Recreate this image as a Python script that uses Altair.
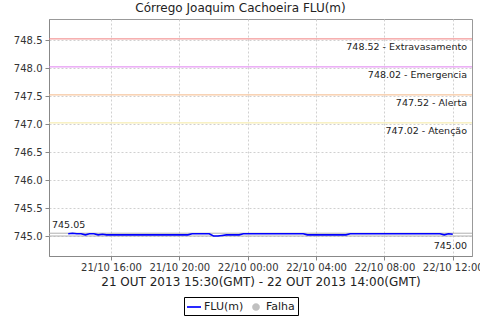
import altair as alt
import pandas as pd

# ---- data ----
start_time = "2013-10-21 13:30"
end_time = "2013-10-22 12:00"
times = pd.date_range(start_time, end_time, freq="15min").strftime("%Y-%m-%dT%H:%M:%S").tolist()

levels = [
    745.04, 745.05, 745.04, 745.04, 745.02, 745.04, 745.04, 745.02, 745.03, 745.02,
    745.02, 745.02, 745.02, 745.02, 745.02, 745.02, 745.02, 745.02, 745.02, 745.02,
    745.02, 745.02, 745.02, 745.02, 745.02, 745.02, 745.02, 745.02, 745.02,
    745.04, 745.04, 745.04, 745.04, 745.04,
    745.00, 745.00, 745.01,
    745.02, 745.02, 745.02, 745.02,
    745.04, 745.04, 745.04, 745.04, 745.04, 745.04, 745.04, 745.04, 745.04, 745.04,
    745.04, 745.04, 745.04, 745.04, 745.04,
    745.02, 745.02, 745.02, 745.02, 745.02, 745.02, 745.02, 745.02, 745.02, 745.02,
    745.04, 745.04, 745.04, 745.04, 745.04, 745.04, 745.04, 745.04, 745.04, 745.04,
    745.04, 745.04, 745.04, 745.04, 745.04, 745.04, 745.04, 745.04, 745.04, 745.04,
    745.04, 745.04,
    745.02, 745.04, 745.03,
]

limit_values = [748.52, 748.02, 747.52, 747.02]
limit_names = ["Extravasamento", "Emergencia", "Alerta", "Atenção"]
limit_colors = ["#f08080", "#e080f0", "#f4b888", "#f4e8a0"]

series_names = ["FLU(m)", "Falha"]
series_colors = ["#0000ff", "#c0c0c0"]

y_ticks = [745.0, 745.5, 746.0, 746.5, 747.0, 747.5, 748.0, 748.5]
x_tick_hours = [(21, 16), (21, 20), (22, 0), (22, 4), (22, 8), (22, 12)]

title_text = "Córrego Joaquim Cachoeira FLU(m)"
x_title = "21 OUT 2013 15:30(GMT) - 22 OUT 2013 14:00(GMT)"

# ---- tables ----
df = pd.DataFrame({"time": times, "level": levels, "serie": series_names[0]})
lim_df = pd.DataFrame({
    "value": limit_values,
    "label": [f"{v:.2f} - {n}" for v, n in zip(limit_values, limit_names)],
    "color": limit_colors,
})
vmax = max(levels)
vmin = min(levels)
ext_df = pd.DataFrame({"value": [vmax, vmin], "label": [f"{vmax:.2f}", f"{vmin:.2f}"]})

FONT = "DejaVu Sans"
x_min = alt.DateTime(year=2013, month=10, date=21, hours=12, minutes=22, seconds=30)
x_max = alt.DateTime(year=2013, month=10, date=22, hours=13, minutes=7, seconds=30)

x_scale = alt.Scale(domain=[x_min, x_max], nice=False)
y_scale = alt.Scale(domain=[744.643, 748.875], nice=False, zero=False)

x_axis = alt.Axis(
    values=[alt.DateTime(year=2013, month=10, date=d, hours=h) for d, h in x_tick_hours],
    format="%d/%m %H:%M", title=x_title, titleFontSize=12, titleFontWeight="normal",
    titleColor="#222", titlePadding=4, labelFontSize=10, labelColor="#333",
    labelPadding=2, tickSize=4, tickColor="#888", domainColor="#888",
    grid=True, gridDash=[2, 2], gridColor="#d0d0d0", labelFlush=False, labelOverlap=False,
)
y_axis = alt.Axis(
    values=y_ticks, format=".1f", title=None, labelFontSize=10, labelColor="#333",
    labelPadding=3, tickSize=4, tickColor="#888", domainColor="#888",
    grid=True, gridDash=[2, 2], gridColor="#d0d0d0", labelOverlap=False,
)


def Y(field):
    return alt.Y(field, scale=y_scale, axis=y_axis)


def X(field):
    return alt.X(field, scale=x_scale, axis=x_axis)


base = alt.Chart(df)

line = base.mark_line(color=series_colors[0], strokeWidth=1.6).encode(
    x=X("time:T"),
    y=Y("level:Q"),
)

# legend symbols: a thin bar for the line series, a dot for "Falha"
legend_shapes = ["M-1,-0.12H1V0.12H-1Z", "M-0.55,0A0.55,0.55 0 1,1 0.55,0A0.55,0.55 0 1,1 -0.55,0Z"]

legend_pts = base.transform_filter("false").mark_point(filled=True, opacity=1).encode(
    x=X("time:T"),
    y=Y("level:Q"),
    color=alt.Color("serie:N", scale=alt.Scale(domain=series_names, range=series_colors),
                    legend=alt.Legend(
                        title=None, orient="none", legendX=135, legendY=278,
                        direction="horizontal", strokeColor="black", padding=3,
                        labelFontSize=11, labelColor="#222", labelFont=FONT,
                        columnPadding=5, labelOffset=3, symbolSize=196,
                        symbolStrokeWidth=0, symbolOpacity=1,
                    )),
    shape=alt.Shape("serie:N", scale=alt.Scale(domain=series_names, range=legend_shapes)),
)

lim_rules = alt.Chart(lim_df).mark_rule(strokeWidth=1).encode(
    y=Y("value:Q"),
    color=alt.Color("color:N", scale=None),
)
lim_text = alt.Chart(lim_df).mark_text(
    align="right", baseline="middle", dx=-5, dy=8, fontSize=9.5, font=FONT, color="#222"
).encode(
    x=alt.datum(x_max, scale=x_scale, axis=x_axis),
    y=Y("value:Q"),
    text="label:N",
)

ext_rules = alt.Chart(ext_df).mark_rule(strokeWidth=1, color="#b0b0b0").encode(
    y=Y("value:Q"),
)
ext_top = alt.Chart(ext_df).transform_filter(alt.datum.value == vmax).mark_text(
    align="left", baseline="middle", dx=3, dy=-8, fontSize=9.5, font=FONT, color="#222"
).encode(x=alt.datum(x_min, scale=x_scale, axis=x_axis), y=Y("value:Q"), text="label:N")
ext_bot = alt.Chart(ext_df).transform_filter(alt.datum.value == vmin).mark_text(
    align="right", baseline="middle", dx=-5, dy=10, fontSize=9.5, font=FONT, color="#222"
).encode(x=alt.datum(x_max, scale=x_scale, axis=x_axis), y=Y("value:Q"), text="label:N")

chart = alt.layer(
    lim_rules, ext_rules, line, legend_pts, lim_text, ext_top, ext_bot
).properties(
    width=423, height=237,
    padding={"left": 49, "top": 19, "right": 8, "bottom": 64},
    autosize=alt.AutoSizeParams(type="none"),
    title=alt.Title(title_text, fontSize=12, fontWeight="normal", font=FONT, color="#222",
                    anchor="middle", frame="group", dx=-20, offset=4),
).configure(font=FONT, background="white").configure_view(stroke="#999")

chart.save("out.html", embed_options={"renderer": "svg", "actions": False})
